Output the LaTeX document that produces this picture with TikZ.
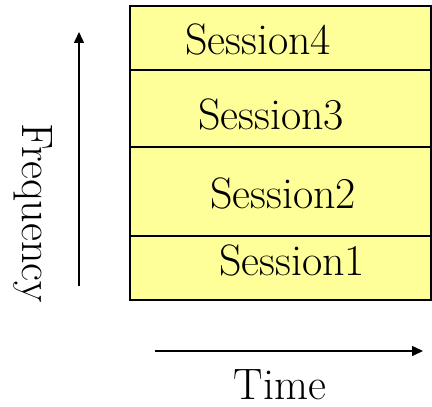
\documentclass[tikz,border=0pt]{standalone}
\usepackage{fontspec}
\usepackage{tikz}
\usetikzlibrary{arrows.meta}
\definecolor{paleyellow}{RGB}{255,255,153}

\begin{document}
\begin{tikzpicture}[x=0.5pt,y=-0.5pt,line width=0.75pt,font=\fontsize{22}{26}\selectfont,
  arr/.style={-{Triangle[length=5.5pt,width=5pt]}}]
\useasboundingbox (0,0) rectangle (432,406);
\draw[fill=paleyellow] (130,6) rectangle (431,300);
\draw (130,70)--(431,70);
\draw (130,147)--(431,147);
\draw (130,236)--(431,236);
\node[anchor=base] (s4) at (258,55) {Session4};
\node[anchor=base] (s3) at (271,130) {Session3};
\node[anchor=base] (s2) at (283,208) {Session2};
\node[anchor=base] (s1) at (292,275) {Session1};
\coordinate (fbot) at (79,286);
\coordinate (ftop) at (79,32);
\draw[arr] (fbot)--(ftop);
\node[rotate=-90,anchor=base] (freq) at (22,213) {Frequency};
\coordinate (tleft) at (155,351);
\coordinate (tright) at (423,351);
\draw[arr] (tleft)--(tright);
\node[anchor=base] (time) at (280,399) {Time};
\end{tikzpicture}
\end{document}
